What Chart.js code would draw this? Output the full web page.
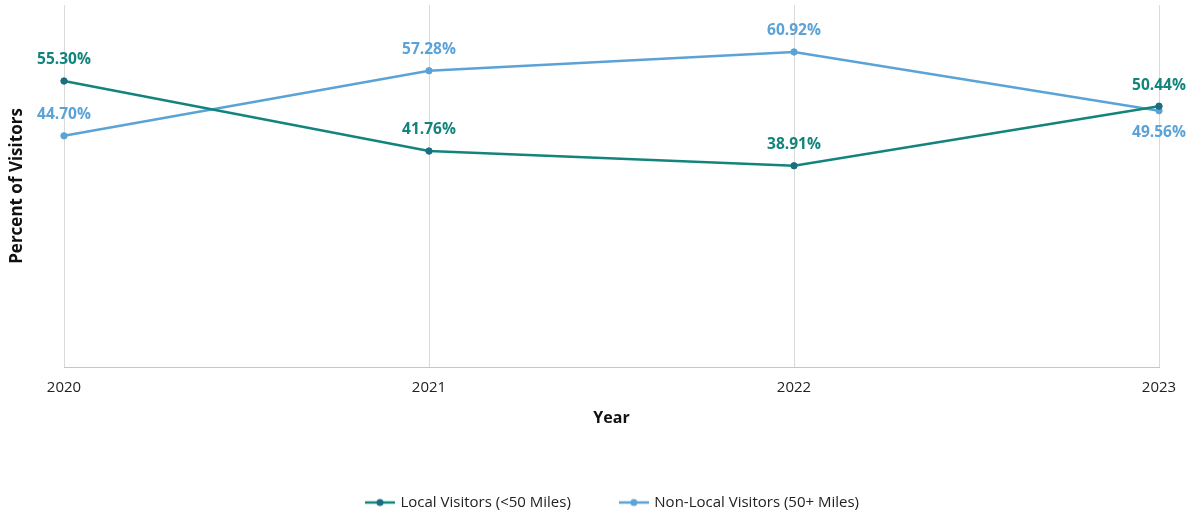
<!DOCTYPE html>
<html>
<head>
<meta charset="utf-8">
<script src="https://cdn.jsdelivr.net/npm/chart.js@4"></script>
<style>
  html, body { margin: 0; padding: 0; background: #fff; }
  #wrap { width: 1193px; height: 515px; position: relative; }
</style>
</head>
<body>
<div id="wrap"><canvas id="visitorChart"></canvas></div>
<script>
// visitor share by year
const years = ["2020", "2021", "2022", "2023"];
const localVisitors = [55.30, 41.76, 38.91, 50.44];
const nonLocalVisitors = [44.70, 57.28, 60.92, 49.56];
const seriesNames = ["Local Visitors (<50 Miles)", "Non-Local Visitors (50+ Miles)"];

const tealLine = "#13847b";
const tealDot = "#1b6d82";
const blueLine = "#5ba3d6";

// legend marker: short line with a dot in the middle
function lineMarker(lineColor, dotColor) {
  let c = document.createElement("canvas");
  c.width = 30;
  c.height = 10;
  let g = c.getContext("2d");
  g.strokeStyle = lineColor;
  g.lineWidth = 2.5;
  g.beginPath();
  g.moveTo(0, 5);
  g.lineTo(30, 5);
  g.stroke();
  g.fillStyle = dotColor;
  g.beginPath();
  g.arc(15, 5, 3.5, 0, Math.PI * 2);
  g.fill();
  return c;
}

// value labels above (or below) each point
const valueLabels = {
  id: "valueLabels",
  afterDatasetsDraw(chart) {
    let ctx = chart.ctx;
    ctx.save();
    ctx.font = "bold 15.5px 'Open Sans'";
    ctx.textAlign = "center";
    ctx.textBaseline = "middle";
    chart.data.datasets.forEach((ds, i) => {
      let meta = chart.getDatasetMeta(i);
      meta.data.forEach((pt, j) => {
        let below = ds.labelBelow && ds.labelBelow[j];
        ctx.fillStyle = ds.labelColor;
        ctx.fillText(ds.data[j].toFixed(2) + "%", pt.x, pt.y + (below ? 22 : -21));
      });
    });
    ctx.restore();
  }
};

const ctx = document.getElementById("visitorChart").getContext("2d");
const visitorChart = new Chart(ctx, {
  type: "line",
  data: {
    labels: years,
    datasets: [
      {
        label: seriesNames[0],
        data: localVisitors,
        borderColor: tealLine,
        backgroundColor: tealDot,
        pointBackgroundColor: tealDot,
        pointBorderColor: tealDot,
        legendMarker: lineMarker(tealLine, tealDot),
        borderWidth: 2.5,
        pointRadius: 3.2,
        pointBorderWidth: 1,
        labelColor: tealLine,
        labelBelow: [false, false, false, false]
      },
      {
        label: seriesNames[1],
        data: nonLocalVisitors,
        borderColor: blueLine,
        backgroundColor: blueLine,
        pointBackgroundColor: blueLine,
        pointBorderColor: blueLine,
        legendMarker: lineMarker(blueLine, blueLine),
        borderWidth: 2.5,
        pointRadius: 3.2,
        pointBorderWidth: 1,
        labelColor: blueLine,
        labelBelow: [false, false, false, true]
      }
    ]
  },
  options: {
    responsive: true,
    maintainAspectRatio: false,
    animation: false,
    layout: { padding: { top: 5, left: 33, right: 0, bottom: -5 } },
    elements: { line: { tension: 0 }, point: { pointStyle: "circle" } },
    plugins: {
      legend: {
        position: "bottom",
        labels: {
          usePointStyle: true,
          pointStyleWidth: 26,
          padding: 50,
          color: "#222",
          font: { family: "'Open Sans'", size: 15 },
          generateLabels(chart) {
            return chart.data.datasets.map((ds, i) => ({
              text: ds.label,
              pointStyle: ds.legendMarker,
              fillStyle: ds.borderColor,
              strokeStyle: ds.borderColor,
              lineWidth: 0,
              hidden: false,
              datasetIndex: i,
              fontColor: "#222"
            }));
          }
        }
      },
      tooltip: { enabled: false }
    },
    scales: {
      x: {
        grid: { color: "#d9d9d9", drawTicks: false },
        border: { color: "#c6c6c6" },
        ticks: { color: "#222", padding: 12, font: { family: "'Open Sans'", size: 15 } },
        title: {
          display: true,
          text: "Year",
          color: "#111",
          font: { family: "'Open Sans'", size: 16, weight: "bold" },
          padding: { top: 0, bottom: 0 }
        },
        afterFit(s) {
          let bottom = s.chart.height + 5 - s.chart.legend.height;
          s.height = bottom - 367;
          s.options.title.padding = { top: 0, bottom: bottom - 418 - 9.6 };
        }
      },
      y: {
        min: 0,
        max: 70,
        grid: { display: false },
        border: { display: false },
        ticks: { display: false },
        title: {
          display: true,
          text: "Percent of Visitors",
          color: "#111",
          font: { family: "'Open Sans'", size: 17, weight: "bold" },
          padding: { top: -26, bottom: 0 }
        },
        afterFit(s) {
          s.width = 31;
        }
      },
      yr: {
        position: "right",
        display: true,
        grid: { display: false },
        border: { display: false },
        ticks: { display: false },
        afterFit(s) {
          s.width = 34;
        }
      }
    }
  },
  plugins: [valueLabels]
});
</script>
</body>
</html>
